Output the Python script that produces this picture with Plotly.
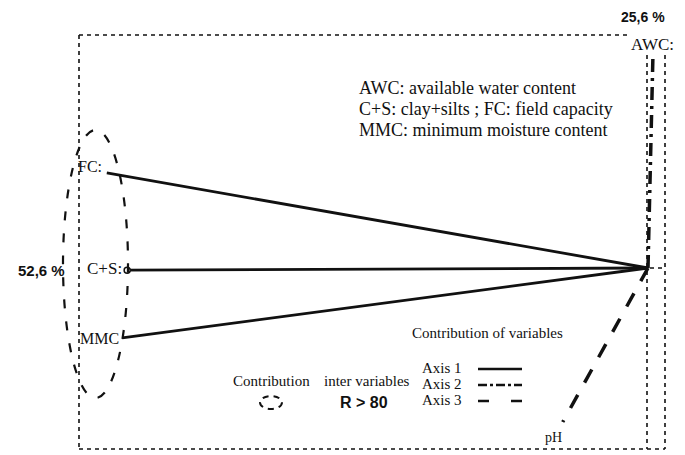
import plotly.graph_objects as go

# ---- data (loadings of the variables in the factorial plane) ----
axis1_vars = ["FC:", "C+S:", "MMC"]
axis1_x = [-0.984, -0.947, -0.956]
axis1_y = [0.173, -0.004, -0.127]

axis2_var = "AWC:"
axis2_x = [0.009]
axis2_y = [0.387]

axis3_var = "pH"
axis3_x = [-0.155]
axis3_y = [-0.280]

pct_axis1 = "52,6 %"
pct_axis2 = "25,6 %"

legend_lines = ["AWC: available water content",
                "C+S: clay+silts ; FC: field capacity",
                "MMC: minimum moisture content"]
axis_names = ["Axis 1", "Axis 2", "Axis 3"]

W, H = 685, 455
SERIF = "Liberation Serif, Times New Roman, serif"
SANS = "Liberation Sans, Arial, sans-serif"
INK = "#111111"


def px(x):
    return x / W


def py(y):
    return 1 - y / H


fig = go.Figure()

# Axis 1 contributions (solid)
for name, x, y in zip(axis1_vars, axis1_x, axis1_y):
    fig.add_trace(go.Scatter(x=[0, x], y=[0, y], mode="lines",
                             line=dict(color=INK, width=2.8),
                             showlegend=False, hoverinfo="skip"))
# small dot at C+S end
fig.add_trace(go.Scatter(x=[axis1_x[1]], y=[axis1_y[1]], mode="markers",
                         marker=dict(color="white", size=6,
                                     line=dict(color=INK, width=1.5)),
                         showlegend=False, hoverinfo="skip"))
# Axis 2 (dash-dot)
fig.add_trace(go.Scatter(x=[0, axis2_x[0]], y=[0, axis2_y[0]], mode="lines",
                         line=dict(color=INK, width=3.5, dash="13px,6px,3px,6px"),
                         showlegend=False, hoverinfo="skip"))
# Axis 3 (dashed)
fig.add_trace(go.Scatter(x=[0, axis3_x[0]], y=[0, axis3_y[0]], mode="lines",
                         line=dict(color=INK, width=3.5, dash="15px,14px"),
                         showlegend=False, hoverinfo="skip"))

shapes = []
frame = dict(color=INK, width=1.6, dash="4px,4px")


def seg(x0, y0, x1, y1, line):
    shapes.append(dict(type="line", xref="paper", yref="paper",
                       x0=px(x0), y0=py(y0), x1=px(x1), y1=py(y1), line=line))


seg(79, 35, 628, 35, frame)
seg(79, 35, 79, 449, frame)
seg(79, 449, 665, 449, frame)
seg(647, 55, 647, 449, frame)
seg(665, 55, 665, 449, frame)
seg(650, 268, 665, 268, frame)

# contribution ellipse
shapes.append(dict(type="circle", xref="paper", yref="paper",
                   x0=px(63), x1=px(128), y0=py(398), y1=py(130),
                   line=dict(color=INK, width=2.2, dash="9px,13px")))
# small legend ellipse
shapes.append(dict(type="circle", xref="paper", yref="paper",
                   x0=px(260), x1=px(282), y0=py(409), y1=py(396),
                   line=dict(color=INK, width=2, dash="6px,5px")))

# legend line samples
seg(478, 369, 522, 369, dict(color=INK, width=2.4))
seg(478, 385, 522, 385, dict(color=INK, width=2.6, dash="9px,3px,3px,3px"))
seg(478, 401, 522, 401, dict(color=INK, width=2.6, dash="11px,22px"))

ann = []


def text(x, y, s, size=15, font=SERIF, anchor="center", bold=False):
    if bold:
        s = "<b>" + s + "</b>"
    ann.append(dict(x=px(x), y=py(y), xref="paper", yref="paper", text=s,
                    showarrow=False, xanchor=anchor, yanchor="middle",
                    font=dict(family=font, size=size, color=INK)))


text(104, 166, axis1_vars[0], size=16, anchor="right")
text(124, 268, axis1_vars[1], size=17, anchor="right")
text(121, 338, axis1_vars[2], size=16, anchor="right")
text(652, 45, axis2_var, size=17)
text(553, 437, axis3_var, size=14)
text(643, 17, pct_axis2, size=14, font=SANS, bold=True)
text(41, 270, pct_axis1, size=15, font=SANS, bold=True)

for i, s in enumerate(legend_lines):
    text(357, 88 + 21 * i, s, size=18, anchor="left")

text(487, 333, "Contribution of variables", size=15)
for i, s in enumerate(axis_names):
    text(442, 368 + 16 * i, s, size=15)
text(271, 381, "Contribution", size=15)
text(367, 381, "inter variables", size=15)
text(364, 402, "R &gt; 80", size=16, font=SANS, bold=True)

fig.update_layout(
    width=W, height=H,
    margin=dict(l=0, r=0, t=0, b=0),
    paper_bgcolor="white", plot_bgcolor="white",
    xaxis=dict(range=[-648 / 550, 37 / 550], visible=False, fixedrange=True),
    yaxis=dict(range=[-187 / 550, 268 / 550], visible=False, fixedrange=True),
    shapes=shapes, annotations=ann, showlegend=False,
)

fig.write_html("out.html",
               config={"displayModeBar": False, "staticPlot": True},
               post_script="document.body.style.margin='0px';"
                           "document.body.style.overflow='hidden';")
